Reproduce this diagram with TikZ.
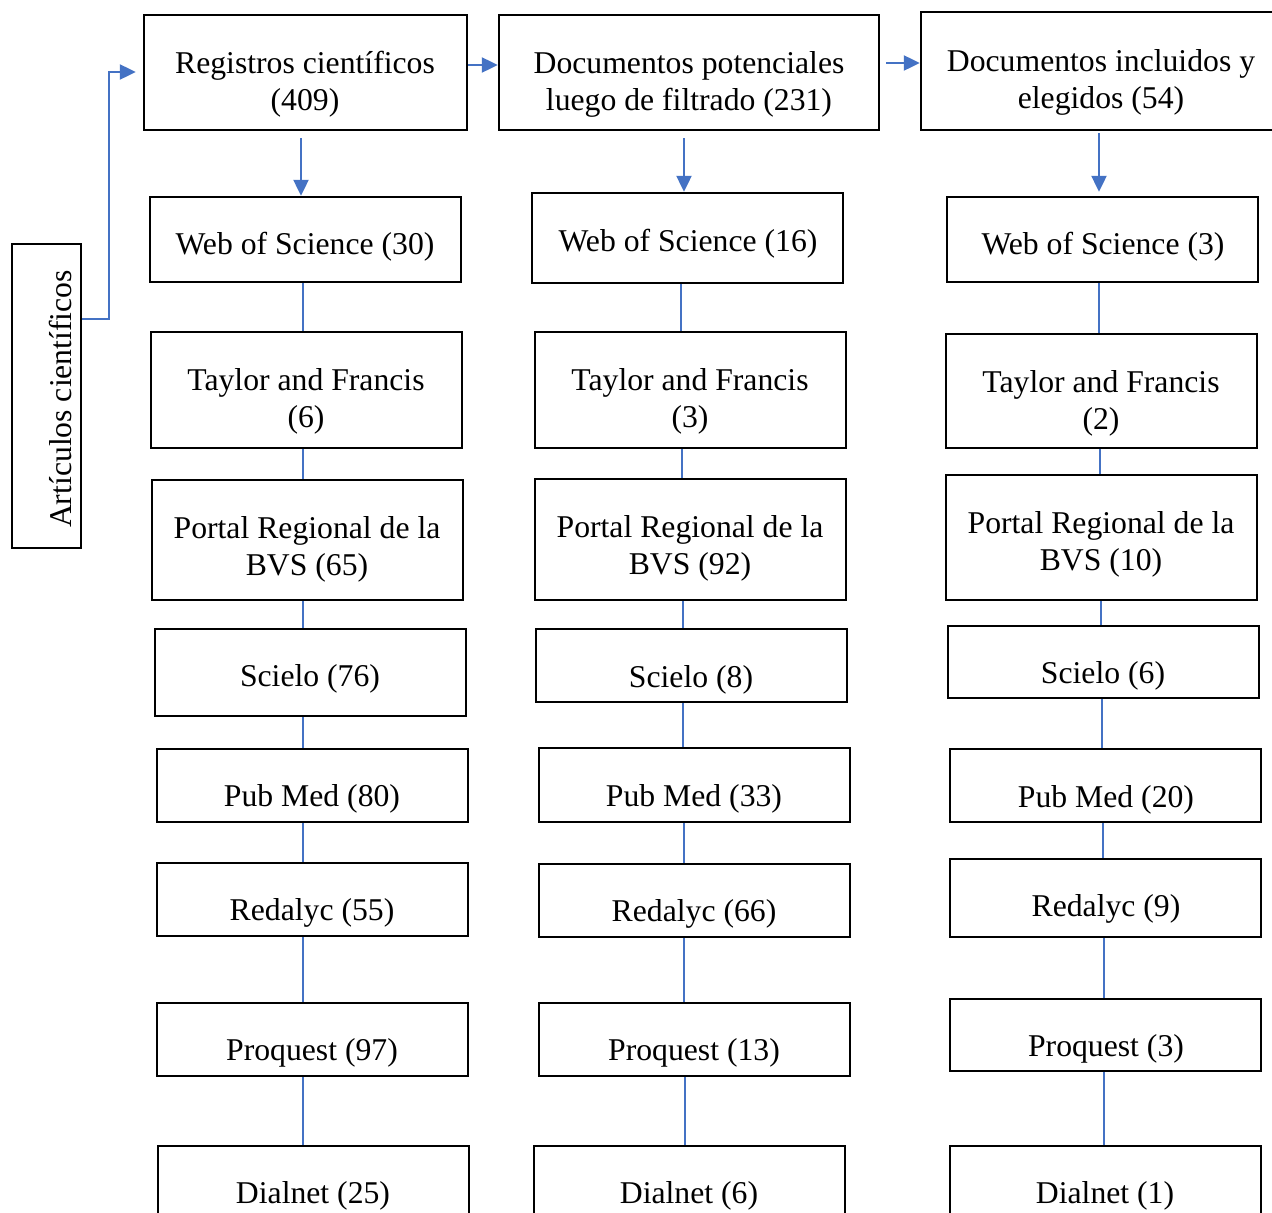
\documentclass[tikz,border=0pt]{standalone}
\usepackage{fontspec}
\setmainfont{Liberation Serif}
\usetikzlibrary{arrows.meta}
\definecolor{lblue}{HTML}{4472C4}
\tikzset{
  box/.style={draw=black, line width=2.4pt, inner sep=0pt, rectangle},
  txt/.style={font=\fontsize{31.7}{37}\selectfont, align=center, inner sep=0pt, text=black, yshift=-3pt},
  arr/.style={draw=lblue, line width=2.2pt, -{Triangle[length=16pt,width=15pt]}},
  link/.style={draw=lblue, line width=2pt},
}
\newcommand{\bx}[5]{\node[box, minimum width={(#4-#2)*1pt}, minimum height={(#5-#3)*1pt}] (#1) at ({(#2+#4)/2},{(#3+#5)/2}) {};}
\newcommand{\tx}[4]{\node[txt] (#1) at (#2,#3) {#4};}
\newcommand{\conn}[3]{\coordinate (tmp) at (#3,0); \draw[link] (tmp |- #1.south) -- (tmp |- #2.north);}
\begin{document}
\begin{tikzpicture}[x=1pt,y=-1pt]
\clip (0,0) rectangle (1272,1213);
\fill[white] (0,0) rectangle (1272,1213);
% left box
\bx{art}{12}{244}{81}{548}
\node[txt, rotate=90, yshift=0pt] (artt) at (60,396) {Artículos científicos};
% column 1
\bx{r1}{144}{15}{467}{130} \tx{r1t}{305}{81}{Registros científicos\\(409)}
\bx{a1}{150}{197}{461}{282} \tx{a1t}{305}{244}{Web of Science (30)}
\bx{a2}{151}{332}{462}{448} \tx{a2t}{306}{398}{Taylor and Francis\\(6)}
\bx{a3}{152}{480}{463}{600} \tx{a3t}{307}{546}{Portal Regional de la\\BVS (65)}
\bx{a4}{155}{629}{466}{716} \tx{a4t}{310}{676}{Scielo (76)}
\bx{a5}{157}{749}{468}{822} \tx{a5t}{312}{796}{Pub Med (80)}
\bx{a6}{157}{863}{468}{936} \tx{a6t}{312}{910}{Redalyc (55)}
\bx{a7}{157}{1003}{468}{1076} \tx{a7t}{312}{1050}{Proquest (97)}
\bx{a8}{158}{1146}{469}{1260} \tx{a8t}{313}{1193}{Dialnet (25)}
% column 2
\bx{r2}{499}{15}{879}{130} \tx{r2t}{689}{81}{Documentos potenciales\\luego de filtrado (231)}
\bx{b1}{532}{193}{843}{283} \tx{b1t}{688}{241}{Web of Science (16)}
\bx{b2}{535}{332}{846}{448} \tx{b2t}{690}{398}{Taylor and Francis\\(3)}
\bx{b3}{535}{479}{846}{600} \tx{b3t}{690}{545}{Portal Regional de la\\BVS (92)}
\bx{b4}{536}{629}{847}{702} \tx{b4t}{691}{677}{Scielo (8)}
\bx{b5}{539}{748}{850}{822} \tx{b5t}{694}{796}{Pub Med (33)}
\bx{b6}{539}{864}{850}{937} \tx{b6t}{694}{911}{Redalyc (66)}
\bx{b7}{539}{1003}{850}{1076} \tx{b7t}{694}{1050}{Proquest (13)}
\bx{b8}{534}{1146}{845}{1260} \tx{b8t}{689}{1193}{Dialnet (6)}
% column 3
\bx{r3}{921}{12}{1290}{130} \tx{r3t}{1101}{79}{Documentos incluidos y\\elegidos (54)}
\bx{c1}{947}{197}{1258}{282} \tx{c1t}{1103}{244}{Web of Science (3)}
\bx{c2}{946}{334}{1257}{448} \tx{c2t}{1101}{400}{Taylor and Francis\\(2)}
\bx{c3}{946}{475}{1257}{600} \tx{c3t}{1101}{541}{Portal Regional de la\\BVS (10)}
\bx{c4}{948}{626}{1259}{698} \tx{c4t}{1103}{673}{Scielo (6)}
\bx{c5}{950}{749}{1261}{822} \tx{c5t}{1106}{797}{Pub Med (20)}
\bx{c6}{950}{859}{1261}{937} \tx{c6t}{1106}{906}{Redalyc (9)}
\bx{c7}{950}{999}{1261}{1071} \tx{c7t}{1106}{1046}{Proquest (3)}
\bx{c8}{950}{1146}{1261}{1260} \tx{c8t}{1105}{1193}{Dialnet (1)}
% arrows
\coordinate (ly) at (0,319);
\coordinate (ry) at (0,72);
\draw[arr, shorten >=7pt] (ly -| art.east) -- (109,319) -- (109,72) -- (ry -| r1.west);
\coordinate (h1) at (0,65);
\draw[arr] (h1 -| r1.east) -- (h1 -| r2.west);
\coordinate (h2) at (0,63);
\draw[arr, shorten <=6pt] (h2 -| r2.east) -- (h2 -| r3.west);
\coordinate (d1) at (301,0);
\draw[arr, shorten <=7pt] (d1 |- r1.south) -- (d1 |- a1.north);
\coordinate (d2) at (684,0);
\draw[arr, shorten <=7pt] (d2 |- r2.south) -- (d2 |- b1.north);
\coordinate (d3) at (1099,0);
\draw[arr, shorten <=2pt, shorten >=4pt] (d3 |- r3.south) -- (d3 |- c1.north);
% links column 1
\conn{a1}{a2}{303} \conn{a2}{a3}{303} \conn{a3}{a4}{303} \conn{a4}{a5}{303}
\conn{a5}{a6}{303} \conn{a6}{a7}{303} \conn{a7}{a8}{303}
% links column 2
\conn{b1}{b2}{681} \conn{b2}{b3}{682} \conn{b3}{b4}{683} \conn{b4}{b5}{683}
\conn{b5}{b6}{684} \conn{b6}{b7}{684} \conn{b7}{b8}{685}
% links column 3
\conn{c1}{c2}{1099} \conn{c2}{c3}{1100} \conn{c3}{c4}{1101} \conn{c4}{c5}{1102}
\conn{c5}{c6}{1103} \conn{c6}{c7}{1104} \conn{c7}{c8}{1104}
\end{tikzpicture}
\end{document}
